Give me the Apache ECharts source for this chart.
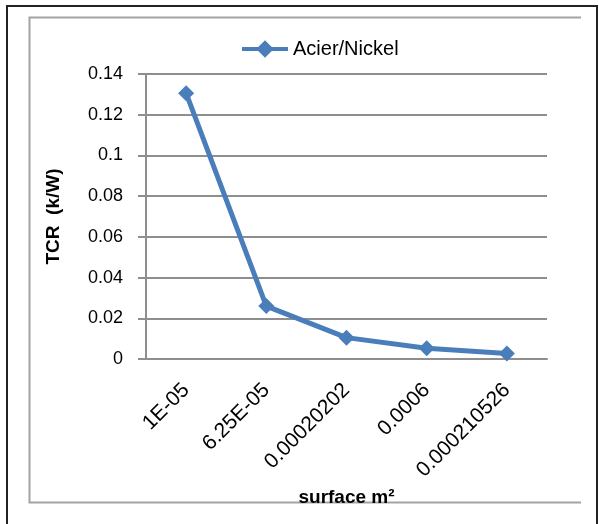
<!DOCTYPE html>
<html>
<head>
<meta charset="utf-8">
<script src="https://cdn.jsdelivr.net/npm/echarts@6/dist/echarts.min.js"></script>
<style>
  html, body { margin: 0; padding: 0; background: #fff; }
  #chart { width: 599px; height: 524px; }
</style>
</head>
<body>
<div id="chart"></div>
<script>
// Contact surface (m²) categories and the measured thermal contact resistance
const surfaces = ['1E-05', '6.25E-05', '0.00020202', '0.0006', '0.000210526'];
const tcrValues = [0.1306, 0.026, 0.0105, 0.0053, 0.0027];
const seriesName = 'Acier/Nickel';

const FONT = '"Liberation Sans", Arial, sans-serif';
const BLUE = '#4A7EBB';
const GRID_GREY = '#8e8e8e';

const chart = echarts.init(document.getElementById('chart'));
chart.setOption({
  animation: false,
  backgroundColor: '#ffffff',
  textStyle: { fontFamily: FONT },
  graphic: [
    // outer dark frame
    { type: 'rect', shape: { x: 7, y: 6, width: 590, height: 530 },
      style: { fill: 'none', stroke: '#222', lineWidth: 2 }, silent: true },
    // light chart-area frame (left, top, bottom)
    { type: 'polyline', shape: { points: [[581, 17.5], [29.5, 17.5], [29.5, 502.5], [581, 502.5]] },
      style: { fill: 'none', stroke: '#a3a3a3', lineWidth: 2 }, silent: true }
  ],
  legend: {
    data: [seriesName],
    left: 235,
    top: 34,
    itemWidth: 46,
    itemHeight: 22,
    itemStyle: { borderWidth: 0 },
    lineStyle: { width: 4 },
    textStyle: { fontSize: 20, color: '#000', fontFamily: FONT }
  },
  grid: { left: 146, right: 52, top: 74, bottom: 165 },
  xAxis: {
    type: 'category',
    data: surfaces,
    boundaryGap: true,
    name: 'surface m²',
    nameLocation: 'middle',
    nameGap: 119,
    nameTextStyle: { fontSize: 19, fontWeight: 'bold', color: '#000', fontFamily: FONT },
    axisLine: { show: true, lineStyle: { color: GRID_GREY, width: 2 } },
    axisTick: { show: false },
    axisLabel: { rotate: 45, margin: 28, fontSize: 21, color: '#000', fontFamily: FONT, interval: 0 },
    splitLine: { show: false }
  },
  yAxis: {
    type: 'value',
    min: 0,
    max: 0.14,
    interval: 0.02,
    name: 'TCR  (k/W)',
    nameLocation: 'middle',
    nameGap: 83,
    nameTextStyle: { fontSize: 19, fontWeight: 'bold', color: '#000', fontFamily: FONT },
    axisLine: { show: true, lineStyle: { color: GRID_GREY, width: 2 } },
    axisTick: { show: true, inside: false, length: 8, lineStyle: { color: GRID_GREY, width: 2 } },
    axisLabel: { margin: 23, fontSize: 18, color: '#000', fontFamily: FONT,
      formatter: v => String(parseFloat(v.toFixed(4))) },
    splitLine: { show: true, lineStyle: { color: GRID_GREY, width: 2 } }
  },
  series: [{
    name: seriesName,
    type: 'line',
    data: tcrValues,
    symbol: 'diamond',
    symbolSize: 16,
    showAllSymbol: true,
    lineStyle: { color: BLUE, width: 5 },
    itemStyle: { color: BLUE, borderWidth: 0 }
  }]
});
</script>
</body>
</html>
